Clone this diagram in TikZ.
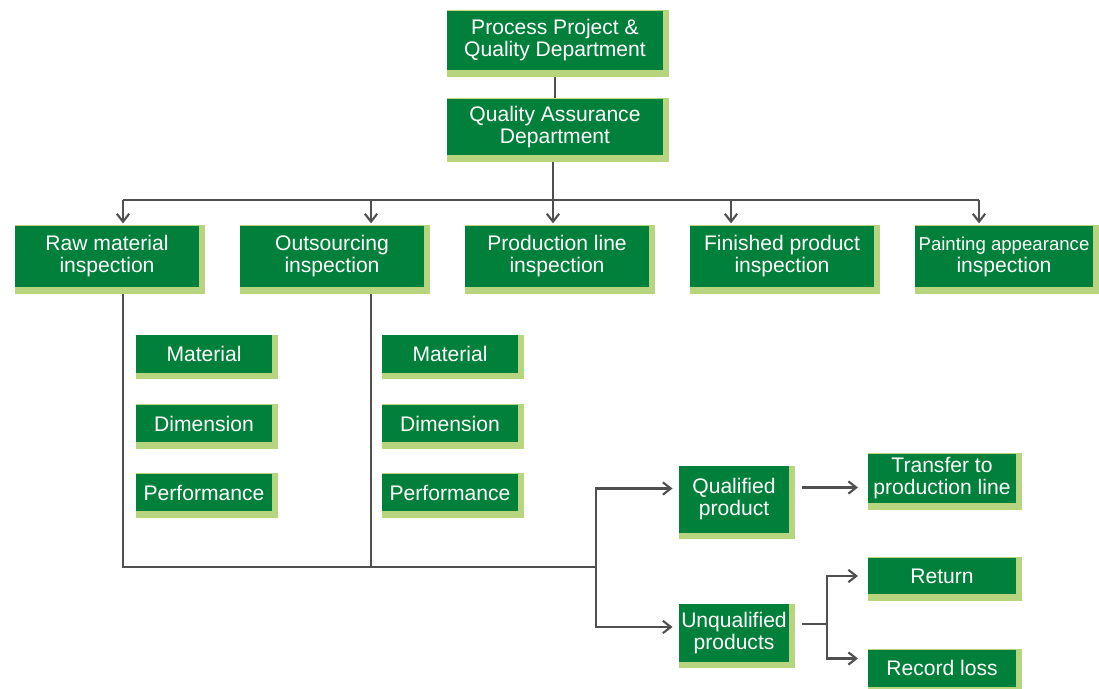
\documentclass[tikz,border=0pt]{standalone}
\usepackage{fontspec}
\setmainfont{Liberation Sans}
\usetikzlibrary{arrows.meta, calc, backgrounds}
\definecolor{boxgreen}{HTML}{00803A}
\definecolor{edgegreen}{HTML}{B7D57F}
\definecolor{linegray}{HTML}{505050}
\tikzset{
    box/.style={
        fill=boxgreen,
        text=white,
        align=center,
        inner sep=0pt,
        font=\fontsize{12}{12.5}\selectfont
    },
    line/.style={draw=linegray, line width=1.3pt},
    arr/.style={line, -{Straight Barb[length=4.5pt,width=7pt,line width=1.2pt]}}
}

\begin{document}
\begin{tikzpicture}[x=0.02cm, y=-0.02cm]
        \useasboundingbox (0,0) rectangle (1099,689);

        % top of the chart
        \node[box, minimum width=4.32cm, minimum height=1.2cm] (top) at (555,40.5) {Process Project \&\\Quality Department};
        \node[box, minimum width=4.32cm, minimum height=1.14cm] (qa) at (555,127) {Quality Assurance\\Department};

        % inspections
        \node[box, minimum width=3.68cm, minimum height=1.24cm] (raw) at (107,256.5) {Raw material\\inspection};
        \node[box, minimum width=3.68cm, minimum height=1.24cm] (out) at (332,256.5) {Outsourcing\\inspection};
        \node[box, minimum width=3.68cm, minimum height=1.24cm] (prod) at (557,256.5) {Production line\\inspection};
        \node[box, minimum width=3.68cm, minimum height=1.24cm] (fin) at (782,256.5) {Finished product\\inspection};
        \node[box, minimum width=3.56cm, minimum height=1.24cm] (paint) at (1004,256.5) {{\fontsize{10.6}{12.5}\selectfont Painting appearance}\\inspection};

        % items checked
        \node[box, minimum width=2.72cm, minimum height=0.75cm] (matA) at (204,354) {Material};
        \node[box, minimum width=2.72cm, minimum height=0.75cm] (dimA) at (204,423.5) {Dimension};
        \node[box, minimum width=2.72cm, minimum height=0.75cm] (perA) at (204,492.5) {Performance};
        \node[box, minimum width=2.72cm, minimum height=0.75cm] (matB) at (450,354) {Material};
        \node[box, minimum width=2.72cm, minimum height=0.75cm] (dimB) at (450,423.5) {Dimension};
        \node[box, minimum width=2.72cm, minimum height=0.75cm] (perB) at (450,492.5) {Performance};

        % results
        \node[box, minimum width=2.2cm, minimum height=1.34cm] (qual) at (734,499.5) {Qualified\\product};
        \node[box, minimum width=2.2cm, minimum height=1.16cm] (unq) at (734,633) {Unqualified\\products};
        \node[box, minimum width=2.96cm, minimum height=1.0cm] (trans) at (942,478.5) {Transfer to\\production line};
        \node[box, minimum width=2.96cm, minimum height=0.74cm] (ret) at (942,576) {Return};
        \node[box, minimum width=2.96cm, minimum height=0.74cm] (rec) at (942,668) {Record loss};

        % light green edge
        \begin{scope}[on background layer]
            \foreach \n in {top,qa,raw,out,prod,fin,paint,matA,dimA,perA,matB,dimB,perB,qual,unq,trans,ret,rec}
                \fill[edgegreen] (\n.north west) rectangle ($(\n.south east)+(6,6)$);
        \end{scope}

        \draw[line, shorten <=3.5pt] (top) -- (qa);

        \coordinate (bus) at (553,200);
        \coordinate (dRaw) at (123,200);
        \coordinate (dOut) at (371,200);
        \coordinate (dFin) at (731,200);
        \coordinate (dPaint) at (979,200);
        \draw[line, shorten <=3.5pt] (qa.south -| bus) -- (bus);
        \draw[line] (dRaw) -- (dPaint);
        \draw[arr, shorten >=1pt] (dRaw) -- (dRaw |- raw.north);
        \draw[arr, shorten >=1pt] (dOut) -- (dOut |- out.north);
        \draw[arr, shorten >=1pt] (bus) -- (bus |- prod.north);
        \draw[arr, shorten >=1pt] (dFin) -- (dFin |- fin.north);
        \draw[arr, shorten >=1pt] (dPaint) -- (dPaint |- paint.north);

        % collecting line
        \coordinate (jRaw) at (123,567);
        \coordinate (jMid) at (596,567);
        \draw[line, shorten <=3.5pt] (dRaw |- raw.south) -- (jRaw) -- (jMid);
        \draw[line, shorten <=3.5pt] (dOut |- out.south) -- (dOut |- jRaw);

        \coordinate (qIn) at ($(qual.west)+(0,-11)$);
        \coordinate (uIn) at ($(unq.west)+(0,-6)$);
        \draw[arr, shorten >=3.5pt] (jMid) |- (qIn);
        \draw[arr, shorten >=3.5pt] (jMid) |- (uIn);

        \coordinate (qOut) at ($(qual.east)+(0,-12)$);
        \draw[arr, shorten <=7pt, shorten >=5.5pt] (qOut) -- (qOut -| trans.west);

        \coordinate (uOut) at ($(unq.east)+(0,-9)$);
        \coordinate (fork) at ($(uOut)+(38,0)$);
        \coordinate (rIn) at ($(rec.west)+(0,-9.5)$);
        \draw[line, shorten <=7pt] (uOut) -- (fork);
        \draw[arr, shorten >=5.5pt] (fork) |- (ret.west);
        \draw[arr, shorten >=5.5pt] (fork) |- (rIn);
\end{tikzpicture}
\end{document}
